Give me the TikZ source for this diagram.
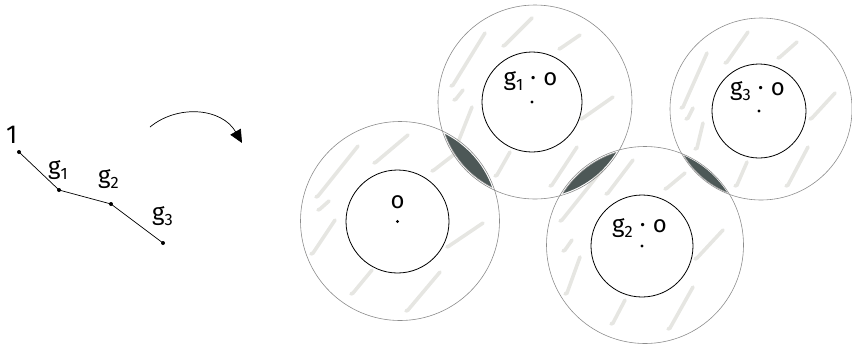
\documentclass[tikz,border=0pt]{standalone}
\usepackage{fontspec}
\setmainfont{Fira Sans}
\usetikzlibrary{arrows.meta}
\definecolor{hatchc}{HTML}{E6E6E2}
\definecolor{lensc}{HTML}{4D5857}
\newcommand\sbs[1]{\raisebox{-0.24em}{\fontsize{16.5}{16.5}\selectfont #1}}
\begin{document}
\begin{tikzpicture}[x=1bp,y=-1bp,
  outer/.style={draw=black!45, line width=0.6bp},
  inner/.style={draw=black, line width=0.8bp},
  hatch/.style={draw=hatchc, line width=3.6bp, line cap=round},
  lens/.style={fill=lensc, draw=black!40, line width=0.5bp},
  lbl/.style={inner sep=0pt, anchor=base, font=\fontsize{24}{28}\selectfont},
  edge/.style={draw=black, line width=0.7bp},
  dot/.style={fill=black}]
\useasboundingbox (0,0) rectangle (852,346);
% centres
\coordinate (oO) at (400,221);   \coordinate (iO) at (397.5,221.5);
\coordinate (o1) at (535,102);   \coordinate (i1) at (532,102);
\coordinate (o2) at (645,245);   \coordinate (i2) at (642,246);
\coordinate (o3) at (761,109);   \coordinate (i3) at (759,111);
% hatch strokes
\foreach \xa/\ya/\xb/\yb in {318/196/358/146, 376/162/408/135, 320/209/329/201, 313/253/335/220,
                   353/293/372/270, 408/310/440/272, 449/246/483/223, 434/170/456/153,
                   453/85/485/33, 505/45/532/18, 456/99/463/90, 561/48/580/35,
                   583/118/613/97, 497/175/510/152, 552/185/577/147, 455/150/472/107,
                   562/220/602/170, 608/193/633/160, 565/250/572/240, 567/293/580/257,
                   613/323/625/300, 670/328/693/287, 697/258/723/230, 667/188/685/173,
                   683/107/707/53, 727/62/748/32, 688/118/693/108, 697/148/703/123,
                   737/185/747/162, 788/185/808/147, 812/118/835/93, 780/57/797/42}
  \draw[hatch] (\xa-2,\ya+1) -- (\xa,\ya) -- (\xb,\yb);
% inner white discs
\fill[white] (iO) circle[radius=51.5bp];
\fill[white] (i1) circle[radius=50bp];
\fill[white] (i2) circle[radius=51bp];
\fill[white] (i3) circle[radius=47bp];
% lenses (slightly inset from the circle outlines)
\begin{scope}\clip (oO) circle[radius=98bp]; \filldraw[lens] (o1) circle[radius=95.5bp];\end{scope}
\begin{scope}\clip (o1) circle[radius=95.5bp]; \filldraw[lens] (o2) circle[radius=97bp];\end{scope}
\begin{scope}\clip (o2) circle[radius=97.5bp]; \filldraw[lens] (o3) circle[radius=90bp];\end{scope}
% outer circles
\draw[outer] (oO) circle[radius=99.5bp];
\draw[outer] (o1) circle[radius=97bp];
\draw[outer] (o2) circle[radius=98.5bp];
\draw[outer] (o3) circle[radius=91bp];
% inner circles
\draw[inner] (iO) circle[radius=51.5bp];
\draw[inner] (i1) circle[radius=50bp];
\draw[inner] (i2) circle[radius=51bp];
\draw[inner] (i3) circle[radius=47bp];
\fill[dot] (iO) circle[radius=1.6bp];
\fill[dot] (i1) circle[radius=1.6bp];
\fill[dot] (i2) circle[radius=1.6bp];
\fill[dot] (i3) circle[radius=1.6bp];
% labels in circles
\node[lbl] (lO) at (397.5,208) {o};
\node[lbl] (l1) at (530.5,85) {g\sbs{1}\hspace{0.3em}·\hspace{0.3em}o};
\node[lbl] (l2) at (639.5,232) {g\sbs{2}\hspace{0.3em}·\hspace{0.3em}o};
\node[lbl] (l3) at (757.5,95) {g\sbs{3}\hspace{0.3em}·\hspace{0.3em}o};
% left graph
\coordinate (p0) at (19,152);
\coordinate (p1) at (59,190);
\coordinate (p2) at (111,204);
\coordinate (p3) at (163,243);
\draw[edge] (p0) -- (p1) -- (p2) -- (p3);
\foreach \p in {p0,p1,p2,p3} \fill[dot] (\p) circle[radius=2bp];
\node[lbl, anchor=base west, font=\fontsize{26}{30}\selectfont] (t0) at (6,143) {1};
\node[lbl, anchor=base west] (t1) at (48,174) {g\sbs{1}};
\node[lbl, anchor=base west] (t2) at (98,183) {g\sbs{2}};
\node[lbl, anchor=base west] (t3) at (152,220) {g\sbs{3}};
% arrow
\coordinate (as) at (150,127);
\coordinate (ae) at (242,143);
\draw[edge, -{Triangle[length=13bp,width=12bp]}] (as) .. controls (178,104) and (222,108) .. (ae);
\end{tikzpicture}
\end{document}
